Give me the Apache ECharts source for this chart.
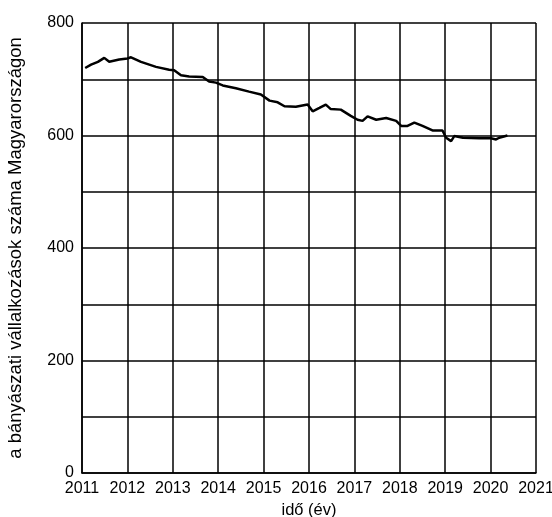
<!DOCTYPE html>
<html>
<head>
<meta charset="utf-8">
<script src="https://cdn.jsdelivr.net/npm/echarts@6/dist/echarts.min.js"></script>
<style>html,body{margin:0;padding:0;background:#fff}#c{width:552px;height:517px}</style>
</head>
<body>
<div id="c"></div>
<script>
const years = [2011.07,2011.2,2011.35,2011.49,2011.6,2011.82,2012.0,2012.08,2012.3,2012.63,2012.92,2013.03,2013.18,2013.36,2013.66,2013.8,2013.95,2014.1,2014.39,2014.68,2014.94,2015.13,2015.31,2015.46,2015.71,2015.97,2016.08,2016.23,2016.37,2016.48,2016.7,2016.92,2017.07,2017.18,2017.29,2017.48,2017.7,2017.92,2018.03,2018.17,2018.32,2018.5,2018.72,2018.94,2019.02,2019.13,2019.2,2019.39,2019.75,2020.01,2020.12,2020.19,2020.37];
const values = [720,726,731,738,731,735,737,739,731,722,717,716,707,705,704,696,694,689,684,678,673,662,659,652,651,655,643,649,655,647,646,635,628,626,634,628,631,626,617,617,623,617,609,609,596,590,599,596,595,595,593,596,600];
const yTicks = [0,200,400,600,800];
const xTicks = [2011,2012,2013,2014,2015,2016,2017,2018,2019,2020,2021];

const chart = echarts.init(document.getElementById('c'));
const txt = {color:'#000', fontFamily:'Liberation Sans, Arial, sans-serif', fontSize:16};
chart.setOption({
  animation:false,
  grid:{left:82,right:16,top:23,bottom:44,containLabel:false,outerBoundsMode:'none'},
  xAxis:{type:'value',min:2011,max:2021,interval:1,
    name:'idő (év)',nameLocation:'middle',nameGap:20,
    nameTextStyle:Object.assign({},txt,{fontSize:16.5}),
    axisLine:{lineStyle:{color:'#000',width:1.5}},axisTick:{show:false},
    axisLabel:Object.assign({},txt,{margin:8,formatter:v=>xTicks.includes(v)?String(v):''}),
    splitLine:{show:true,lineStyle:{color:'#000',width:1.5}}},
  yAxis:{type:'value',min:0,max:800,interval:100,
    name:'a bányászati vállalkozások száma Magyarországon',nameLocation:'middle',nameGap:57,
    nameTextStyle:Object.assign({},txt,{fontSize:18.5}),
    axisLine:{show:true,lineStyle:{color:'#000',width:1.5}},axisTick:{show:false},
    axisLabel:Object.assign({},txt,{margin:8,formatter:v=>yTicks.includes(v)?String(v):''}),
    splitLine:{show:true,lineStyle:{color:'#000',width:1.5}}},
  series:[{type:'line',data:years.map((y,i)=>[y,values[i]]),showSymbol:false,
    lineStyle:{color:'#000',width:2.5}}]
});
</script>
</body>
</html>
